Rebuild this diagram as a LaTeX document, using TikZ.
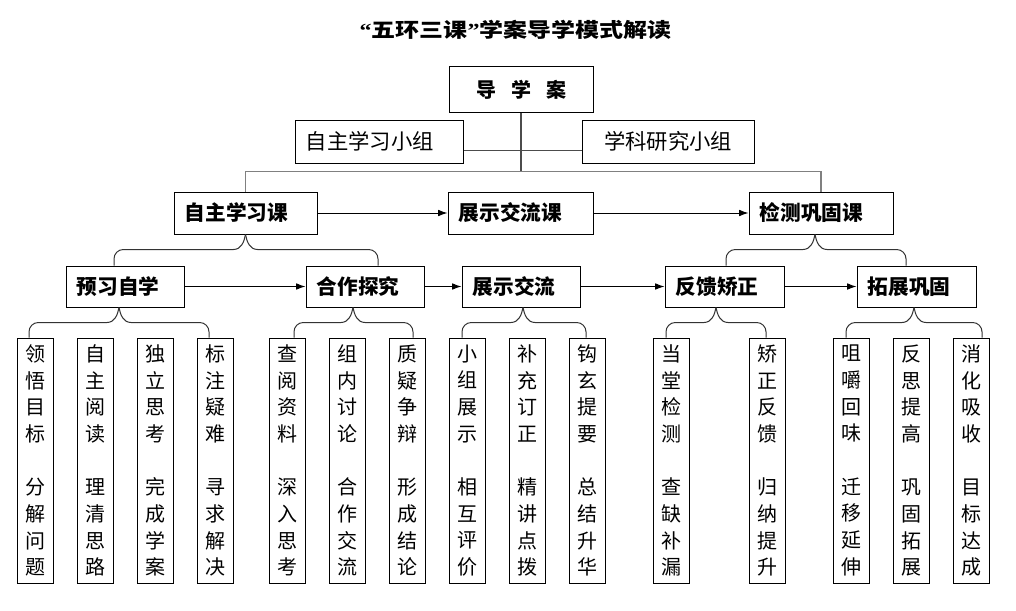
\documentclass[tikz,border=0pt]{standalone}
\usepackage{fontspec}
\setmainfont{Noto Sans CJK SC}
\newfontfamily\latinq{Liberation Serif}
\usetikzlibrary{arrows.meta}
\newcommand\brcdraw[6]{%
  \draw[brc] ([xshift=#2]#1.south) to[out=-100,in=0] ++(-12,15) [rounded corners=7pt] -| ([xshift=#4]#3.north);
  \draw[brc] ([xshift=#2]#1.south) to[out=-80,in=180] ++(12,15) [rounded corners=7pt] -| ([xshift=#6]#5.north);
}
\begin{document}
\begin{tikzpicture}[x=0.75pt,y=-0.75pt,
  every node/.style={inner sep=0pt},
  box/.style={draw, line width=0.75pt, font=\fontsize{15.5}{18}\selectfont\bfseries, align=left, inner xsep=8pt},
  rowa/.style={box, minimum height=31.5pt},
  rowb/.style={box, minimum height=30.75pt},
  gbox/.style={draw, line width=0.75pt, minimum height=32.25pt, font=\fontsize{16}{19}\selectfont},
  vbox/.style={draw, line width=0.75pt, minimum width=27pt, minimum height=183.75pt, align=center, font=\fontsize{15}{20}\selectfont},
  arr/.style={line width=0.75pt, -{Latex[length=7pt,width=5pt]}},
  brc/.style={line width=0.75pt, draw=black!80},
  gline/.style={line width=1.2pt, draw=black!50},
  dline/.style={line width=0.9pt, draw=black!70},
]
\useasboundingbox (0,0) rectangle (1016,610);
% title
\node[font=\fontsize{15}{18}\selectfont\bfseries] (title) at (515.5,30)
  {\scalebox{1.2}[1]{{\latinq\bfseries “}五环三课{\latinq\bfseries ”}学案导学模式解读}};
% top
\node[draw, line width=0.75pt, minimum width=108pt, minimum height=33.75pt, font=\fontsize{15}{18}\selectfont\bfseries] (dxa) at (521,89.5) {导\hspace{0.75em}学\hspace{0.75em}案};
\node[gbox, align=left, inner xsep=8pt, text width=110pt] (zzxz) at (379,141.5) {自主学习小组};
\node[gbox, minimum width=129pt] (xkyj) at (668,141.5) {学科研究小组};
% row 1
\node[rowa, text width=91.25pt] (zzk) at (245.5,213) {自主学习课};
\node[rowa, text width=92.75pt] (zs) at (520.5,213) {展示交流课};
\node[rowa, text width=92pt] (jc) at (821,213) {检测巩固课};
% row 2
\node[rowb, text width=72.5pt] (yx) at (125,286.5) {预习自学};
\node[rowb, text width=72.5pt] (hz) at (365,286.5) {合作探究};
\node[rowb, text width=72.5pt] (zl) at (521,286.5) {展示交流};
\node[rowb, text width=73.25pt] (fk) at (724.5,286.5) {反馈矫正};
\node[rowb, text width=73.25pt] (tz) at (916.5,286.5) {拓展巩固};
% row 3
\node[vbox] (v1) at (35,460.5) {领\\悟\\目\\标\\[20pt]分\\解\\问\\题};
\node[vbox] (v2) at (95,460.5) {自\\主\\阅\\读\\[20pt]理\\清\\思\\路};
\node[vbox] (v3) at (155,460.5) {独\\立\\思\\考\\[20pt]完\\成\\学\\案};
\node[vbox] (v4) at (215,460.5) {标\\注\\疑\\难\\[20pt]寻\\求\\解\\决};
\node[vbox] (v5) at (287,460.5) {查\\阅\\资\\料\\[20pt]深\\入\\思\\考};
\node[vbox] (v6) at (347,460.5) {组\\内\\讨\\论\\[20pt]合\\作\\交\\流};
\node[vbox] (v7) at (407,460.5) {质\\疑\\争\\辩\\[20pt]形\\成\\结\\论};
\node[vbox] (v8) at (467,460.5) {小\\组\\展\\示\\[20pt]相\\互\\评\\价};
\node[vbox] (v9) at (527,460.5) {补\\充\\订\\正\\[20pt]精\\讲\\点\\拨};
\node[vbox] (v10) at (587,460.5) {钩\\玄\\提\\要\\[20pt]总\\结\\升\\华};
\node[vbox] (v11) at (671,460.5) {当\\堂\\检\\测\\[20pt]查\\缺\\补\\漏};
\node[vbox] (v12) at (767,460.5) {矫\\正\\反\\馈\\[20pt]归\\纳\\提\\升};
\node[vbox] (v13) at (851,460.5) {咀\\嚼\\回\\味\\[20pt]迁\\移\\延\\伸};
\node[vbox] (v14) at (911,460.5) {反\\思\\提\\高\\[20pt]巩\\固\\拓\\展};
\node[vbox] (v15) at (971,460.5) {消\\化\\吸\\收\\[20pt]目\\标\\达\\成};
% top connectors
\coordinate (hub) at (521,171.5);
\draw[dline] (dxa.south) -- (hub);
\draw[dline] ([yshift=-7pt]zzxz.east) -- ([yshift=-7pt]xkyj.west);
\draw[gline] (zzk.north) |- (hub) -| (jc.north);
% arrows
\draw[arr] (zzk) -- (zs);
\draw[arr] (zs) -- (jc);
\draw[arr] (yx) -- (hz);
\draw[arr] (hz) -- (zl);
\draw[arr] (zl) -- (fk);
\draw[arr] (fk) -- (tz);
% braces
\brcdraw{zzk}{0pt}{yx}{-8.25pt}{hz}{9.75pt}
\brcdraw{jc}{-4.5pt}{fk}{1.125pt}{tz}{-7.875pt}
\brcdraw{yx}{-4.5pt}{v1}{-4.5pt}{v4}{-4.5pt}
\brcdraw{hz}{-9pt}{v5}{5.25pt}{v7}{4.5pt}
\brcdraw{zl}{1.5pt}{v8}{-3.75pt}{v10}{-0.75pt}
\brcdraw{fk}{-6.375pt}{v11}{-3.75pt}{v12}{-0.75pt}
\brcdraw{tz}{-1.875pt}{v13}{-3.75pt}{v15}{8.25pt}
\end{tikzpicture}
\end{document}
